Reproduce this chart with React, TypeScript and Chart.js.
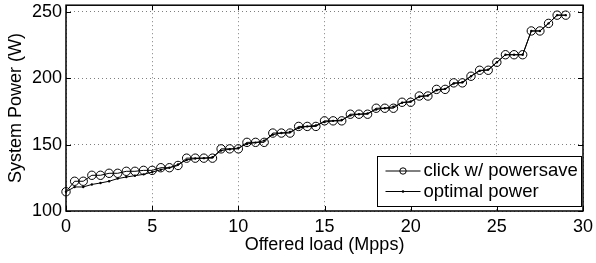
import React, { useEffect, useRef } from "react";
import { Chart, registerables } from "chart.js";

Chart.register(...registerables);

const loads = [
  0, 0.5, 1, 1.5, 2, 2.5, 3, 3.5, 4, 4.5, 5, 5.5, 6, 6.5, 7, 7.5, 8, 8.5, 9, 9.5,
  10, 10.5, 11, 11.5, 12, 12.5, 13, 13.5, 14, 14.5, 15, 15.5, 16, 16.5, 17, 17.5,
  18, 18.5, 19, 19.5, 20, 20.5, 21, 21.5, 22, 22.5, 23, 23.5, 24, 24.5, 25, 25.5,
  26, 26.5, 27, 27.5, 28, 28.5, 29,
];

const clickPowersave = [
  114.5, 122.4, 122.4, 126.9, 126.9, 128.4, 128.4, 129.9, 129.9, 130.6, 130.6,
  132.6, 132.6, 134.3, 139.8, 139.8, 139.8, 139.8, 146.8, 146.8, 146.8, 151.7,
  151.7, 151.7, 158.7, 158.7, 158.7, 163.7, 163.7, 163.7, 167.9, 167.9, 167.9,
  172.9, 172.9, 172.9, 177.4, 177.4, 177.4, 181.9, 181.9, 186.6, 186.6, 191.6,
  191.6, 196.5, 196.5, 201.5, 206, 206, 212, 217.7, 217.7, 217.7, 235.6, 235.6,
  241.3, 247.5, 247.5,
];

const optimalPower = [
  114.5, 118.1, 118.1, 120, 121.1, 122.4, 124.4, 125.6, 126.6, 127.6, 129.3,
  131.1, 132.6, 135, 138.5, 139.5, 139.8, 140.5, 145.5, 146.5, 147.5, 150.5,
  151.5, 153, 157.5, 158.7, 159.5, 162.5, 163.7, 164.5, 167, 167.9, 168.5, 172,
  172.9, 173.5, 176.5, 177.4, 178.5, 181.5, 182.5, 186, 187, 191, 192, 196, 197,
  201.5, 205.5, 206.5, 212, 217.7, 217.7, 217.7, 235.6, 235.6, 241.3, 247.5,
  247.5,
];

const xTicks = [0, 5, 10, 15, 20, 25, 30];
const yTicks = [100, 150, 200, 250];
const seriesNames = ["click w/ powersave", "optimal power"];
const xTitle = "Offered load (Mpps)";
const yTitle = "System Power (W)";

const FONT = '"Liberation Sans", Arial, Helvetica, sans-serif';

const framePlugin = {
  id: "frame",
  beforeDatasetsDraw(chart: any) {
    const { ctx, chartArea: a, scales } = chart;
    ctx.save();
    ctx.strokeStyle = "#000";
    ctx.lineWidth = 1;
    const L = 5;
    ctx.beginPath();
    for (const v of xTicks) {
      const px = Math.round(scales.x.getPixelForValue(v)) + 0.5;
      ctx.moveTo(px, a.bottom);
      ctx.lineTo(px, a.bottom - L);
      ctx.moveTo(px, a.top);
      ctx.lineTo(px, a.top + L);
    }
    for (const v of yTicks) {
      const py = Math.round(scales.y.getPixelForValue(v)) + 0.5;
      ctx.moveTo(a.left, py);
      ctx.lineTo(a.left + L, py);
      ctx.moveTo(a.right, py);
      ctx.lineTo(a.right - L, py);
    }
    ctx.stroke();
    ctx.lineWidth = 1.5;
    ctx.strokeRect(a.left, a.top, a.right - a.left, a.bottom - a.top);
    ctx.restore();
  },
};

const legendPlugin = {
  id: "boxLegend",
  afterDraw(chart: any) {
    const { ctx, chartArea: a } = chart;
    ctx.save();
    const w = 204;
    const h = 50;
    const x0 = Math.round(a.right - 2 - w) + 0.5;
    const y0 = Math.round(a.bottom - 5 - h) + 0.5;
    ctx.fillStyle = "#fff";
    ctx.fillRect(x0, y0, w, h);
    ctx.strokeStyle = "#000";
    ctx.lineWidth = 1;
    ctx.strokeRect(x0, y0, w, h);
    const rows = [y0 + 14.5, y0 + 35];
    chart.data.datasets.forEach((ds: any, i: number) => {
      const yy = rows[i];
      ctx.beginPath();
      ctx.strokeStyle = "#000";
      ctx.lineWidth = 1;
      ctx.moveTo(x0 + 8, yy);
      ctx.lineTo(x0 + 43, yy);
      ctx.stroke();
      ctx.beginPath();
      if (i === 0) {
        ctx.arc(x0 + 25.5, yy, 3.2, 0, Math.PI * 2);
        ctx.stroke();
      } else {
        ctx.arc(x0 + 25.5, yy, 1.3, 0, Math.PI * 2);
        ctx.fillStyle = "#000";
        ctx.fill();
      }
      ctx.fillStyle = "#000";
      ctx.font = `18.5px ${FONT}`;
      ctx.textBaseline = "middle";
      ctx.textAlign = "left";
      ctx.fillText(ds.label, x0 + 46, yy);
    });
    ctx.restore();
  },
};

export default function App() {
  const ref = useRef<HTMLCanvasElement | null>(null);

  useEffect(() => {
    if (!ref.current) return;
    const chart = new Chart(ref.current, {
      type: "line",
      data: {
        datasets: [
          {
            label: seriesNames[0],
            data: loads.map((x, i) => ({ x, y: clickPowersave[i] })),
            borderColor: "#000",
            borderWidth: 1,
            pointRadius: 4.2,
            pointBorderWidth: 1,
            pointBorderColor: "#000",
            pointBackgroundColor: "rgba(0,0,0,0)",
            pointStyle: "circle",
            tension: 0,
            clip: false as any,
          },
          {
            label: seriesNames[1],
            data: loads.map((x, i) => ({ x, y: optimalPower[i] })),
            borderColor: "#000",
            borderWidth: 1,
            pointRadius: 1.2,
            pointBorderWidth: 0,
            pointBackgroundColor: "#000",
            tension: 0,
            clip: false as any,
          },
        ],
      },
      options: {
        responsive: false,
        animation: false,
        layout: { padding: { top: 3, right: 13, left: 0, bottom: 0 } },
        plugins: {
          legend: { display: false },
          tooltip: { enabled: false },
        },
        scales: {
          x: {
            type: "linear",
            min: 0,
            max: 30,
            afterBuildTicks: (s: any) => {
              s.ticks = xTicks.map((v) => ({ value: v }));
            },
            afterFit: (s: any) => {
              s.height = 52;
              s.paddingLeft = 0;
              s.paddingRight = 0;
            },
            grid: {
              color: "rgba(0,0,0,0.5)",
              lineWidth: 1,
              drawTicks: false,
            },
            border: { display: false, dash: [1, 3] },
            ticks: {
              color: "#000",
              font: { family: FONT, size: 18 },
              padding: 5,
              maxRotation: 0,
            },
            title: {
              display: true,
              text: xTitle,
              color: "#000",
              font: { family: FONT, size: 18 },
              padding: { top: 0, bottom: 7 },
            },
          },
          y: {
            type: "linear",
            min: 100,
            max: 255,
            afterBuildTicks: (s: any) => {
              s.ticks = yTicks.map((v) => ({ value: v }));
            },
            afterFit: (s: any) => {
              s.width = 66;
              s.paddingTop = 0;
              s.paddingBottom = 0;
            },
            grid: {
              color: "rgba(0,0,0,0.5)",
              lineWidth: 1,
              drawTicks: false,
            },
            border: { display: false, dash: [1, 3] },
            ticks: {
              color: "#000",
              font: { family: FONT, size: 18 },
              padding: 4,
            },
            title: {
              display: true,
              text: yTitle,
              color: "#000",
              font: { family: FONT, size: 18 },
              padding: { top: 5, bottom: 0 },
            },
          },
        },
      },
      plugins: [framePlugin, legendPlugin],
    });
    return () => chart.destroy();
  }, []);

  return (
    <div style={{ position: "absolute", left: 0, top: 0, width: 596, height: 263, background: "#fff" }}>
      <canvas ref={ref} width={596} height={263} style={{ display: "block" }} />
    </div>
  );
}
